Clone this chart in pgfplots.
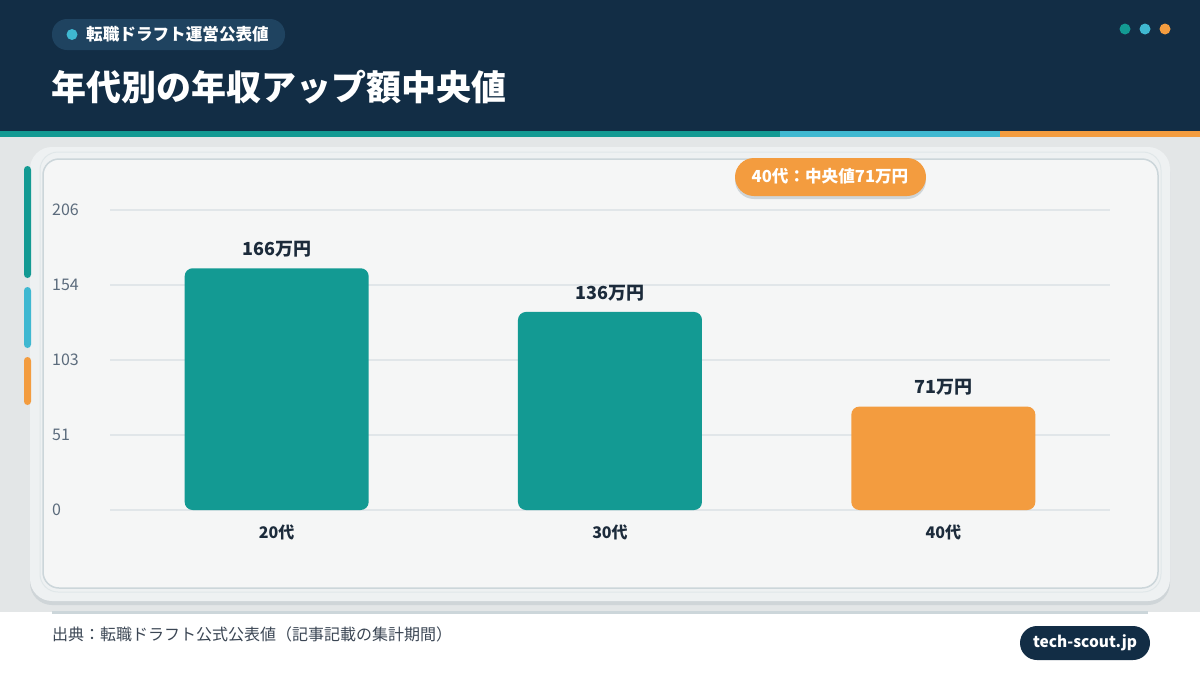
\documentclass[border=0pt]{standalone}
\usepackage{fontspec}
\setmainfont{Noto Sans CJK JP}
\usepackage{pgfplots}
\pgfplotsset{compat=1.18}
\definecolor{cnavy}{HTML}{122D45}
\definecolor{cbadge}{HTML}{1F4360}
\definecolor{cteal}{HTML}{139A93}
\definecolor{clblue}{HTML}{3FB8D1}
\definecolor{corange}{HTML}{F39C3F}
\definecolor{cbg}{HTML}{E3E6E7}
\definecolor{ccardout}{HTML}{EEF1F2}
\definecolor{ccardin}{HTML}{F5F6F6}
\definecolor{cborder}{HTML}{CCD6DA}
\definecolor{cshadow}{HTML}{CFD5D8}
\definecolor{cgrid}{HTML}{E1E6E9}
\definecolor{ctick}{HTML}{5B6B7C}
\definecolor{clab}{HTML}{1C2B3B}
\definecolor{cfoot}{HTML}{3B4654}
\begin{document}
\begin{tikzpicture}
\path[use as bounding box] (0,0) rectangle (1200pt,-675pt);
\begin{scope}[x=1pt,y=-1pt]
\fill[white] (0,0) rectangle (1200,675);
\fill[cnavy] (0,0) rectangle (1200,131);
\fill[cteal] (0,131) rectangle (780,137);
\fill[clblue] (780,131) rectangle (1000,137);
\fill[corange] (1000,131) rectangle (1200,137);
\fill[cbg] (0,137) rectangle (1200,612);
% badge
\fill[cbadge, rounded corners=15pt] (52,19) rectangle (285,50);
\fill[clblue] (72,34.5) circle (5.5pt);
\node[anchor=west, text=white, font=\bfseries\fontsize{16.6}{16.6}\selectfont, inner sep=0pt] at (86,34.5) {転職ドラフト運営公表値};
\node[anchor=west, text=white, font=\bfseries\fontsize{35}{35}\selectfont, inner sep=0pt] at (51,87) {年代別の年収アップ額中央値};
\fill[cteal] (1125,29) circle (5.5pt);
\fill[clblue] (1145,29) circle (5.5pt);
\fill[corange] (1165,29) circle (5.5pt);
% card
\fill[cshadow, rounded corners=22pt] (30,150) rectangle (1170,605);
\fill[ccardout, rounded corners=22pt] (30,147) rectangle (1170,601);
\draw[cborder!60, line width=1pt, rounded corners=18pt] (40,152) rectangle (1161,592);
\draw[cborder, line width=1.5pt, fill=ccardin, rounded corners=16pt] (43,159) rectangle (1158,588);
% accents
\fill[cteal, rounded corners=3.5pt] (24,166) rectangle (31,278);
\fill[clblue, rounded corners=3.5pt] (24,287) rectangle (31,348);
\fill[corange, rounded corners=3.5pt] (24,357) rectangle (31,405);
% annotation
\fill[cshadow, rounded corners=19pt] (735,161) rectangle (926,199);
\fill[corange, rounded corners=19pt] (735,158) rectangle (926,196);
\node[text=white, font=\bfseries\fontsize{16.6}{16.6}\selectfont, inner sep=0pt] at (830,176.5) {40代：中央値71万円};
% footer
\fill[cborder] (52,611) rectangle (1148,614);
\node[anchor=west, text=cfoot, font=\fontsize{16}{16}\selectfont, inner sep=0pt] at (52,634) {出典：転職ドラフト公式公表値（記事記載の集計期間）};
\fill[cnavy, rounded corners=17pt] (1020,626) rectangle (1150,660);
\node[text=white, font=\bfseries\fontsize{15.5}{15.5}\selectfont, inner sep=0pt] at (1085,642.5) {tech-scout.jp};
\end{scope}
\begin{axis}[
  at={(110pt,-510pt)}, anchor=south west,
  scale only axis, width=1000pt, height=300pt,
  xmin=-0.5, xmax=2.5, ymin=0, ymax=206,
  ybar, bar width=184pt, bar shift=0pt,
  xtick={0,1,2}, xticklabels={20代,30代,40代},
  ytick={0,51.5,103,154.5,206}, yticklabels={0,51,103,154,206},
  axis line style={draw=none}, major tick length=0pt, tick style={draw=none},
  ymajorgrids, grid style={cgrid, line width=1.5pt},
  xticklabel style={font=\bfseries\fontsize{16}{16}\selectfont, text=clab, anchor=center, yshift=-22pt},
  yticklabel style={font=\fontsize{16}{16}\selectfont, text=ctick, anchor=west, inner sep=0pt, xshift=-58pt},
  /pgf/number format/assume math mode=true,
  nodes near coords={\pgfmathprintnumber{\pgfplotspointmeta}万円},
  nodes near coords style={font=\bfseries\fontsize{18}{18}\selectfont, text=clab, anchor=south, inner sep=0pt, yshift=11pt},
  clip=false,
]
\addplot[fill=cteal, draw=none, rounded corners=8pt] coordinates {(0,166) (1,136)};
\addplot[fill=corange, draw=none, rounded corners=8pt] coordinates {(2,71)};
\end{axis}
\end{tikzpicture}
\end{document}
